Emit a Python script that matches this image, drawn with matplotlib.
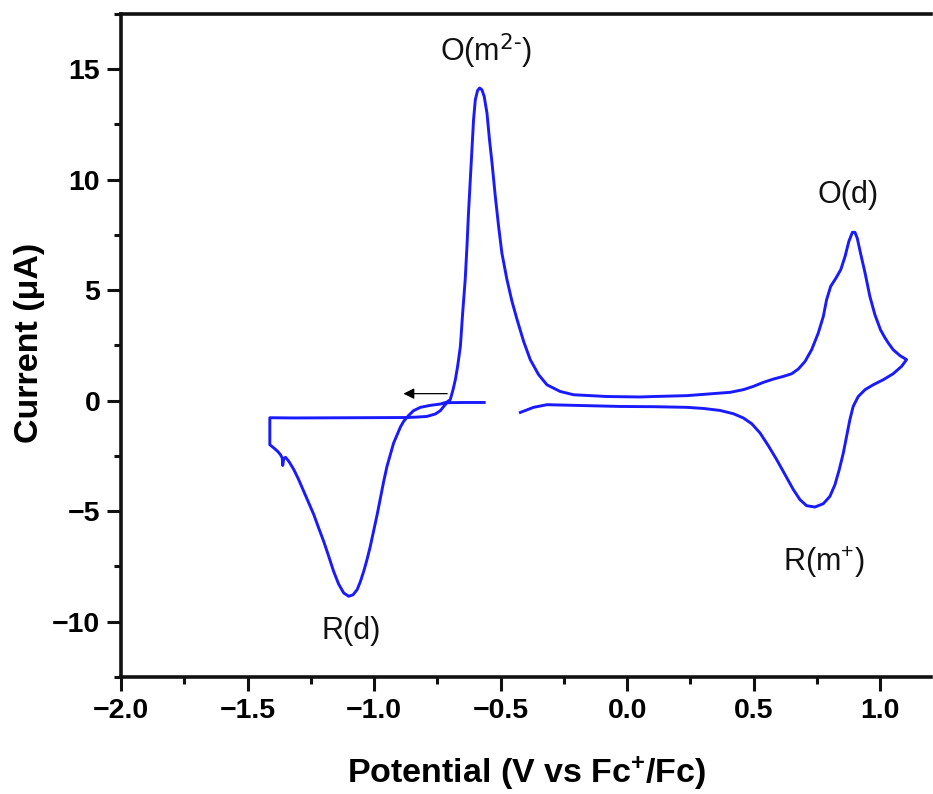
import matplotlib
matplotlib.use("Agg")
import matplotlib.pyplot as plt
from matplotlib.ticker import MultipleLocator, FuncFormatter

plt.rcParams['font.family'] = ['Liberation Sans', 'DejaVu Sans']
plt.rcParams['mathtext.default'] = 'regular'

# Cyclic voltammogram (potential in V vs Fc+/Fc, current in uA), traced in scan order
potential = [
    -0.565, -0.650, -0.712, -0.725, -0.738, -0.758, -0.791, -0.830, -0.870, -1.317, -1.412,
    -1.412, -1.396, -1.381, -1.370, -1.363, -1.361, -1.357, -1.350, -1.337, -1.317, -1.298,
    -1.278, -1.258, -1.238, -1.219, -1.199, -1.179, -1.160, -1.140, -1.120, -1.100, -1.083,
    -1.067, -1.054, -1.041, -1.028, -1.015, -1.002, -0.988, -0.975, -0.962, -0.949, -0.936,
    -0.923, -0.909, -0.896, -0.883, -0.863, -0.844, -0.817, -0.778, -0.738, -0.712,
    -0.699, -0.688, -0.679, -0.670, -0.659, -0.650, -0.640, -0.633, -0.627, -0.620, -0.613,
    -0.607, -0.600, -0.591, -0.583, -0.574, -0.565, -0.554, -0.544, -0.534, -0.521, -0.508,
    -0.495, -0.475, -0.455, -0.435, -0.409, -0.383, -0.350, -0.317, -0.265, -0.212, -0.080,
    0.051, 0.104, 0.236, 0.341, 0.407, 0.459, 0.499, 0.538, 0.578, 0.617, 0.650, 0.676,
    0.703, 0.729, 0.755, 0.775, 0.788, 0.804, 0.825, 0.844, 0.861, 0.876, 0.890, 0.900,
    0.909, 0.922, 0.940, 0.959, 0.979, 1.001, 1.019, 1.032, 1.051, 1.078, 1.104,
    1.084, 1.051, 1.012, 0.972, 0.940, 0.913, 0.893, 0.880, 0.867, 0.854, 0.838, 0.821,
    0.801, 0.775, 0.742, 0.709, 0.683, 0.657, 0.624, 0.591, 0.558, 0.525, 0.492, 0.459,
    0.420, 0.367, 0.301, 0.236, 0.104, -0.028, -0.133, -0.317, -0.370, -0.422]
current = [
    -0.08, -0.08, -0.09, -0.26, -0.45, -0.60, -0.71, -0.74, -0.76, -0.78, -0.77,
    -1.99, -2.14, -2.29, -2.44, -2.59, -2.93, -2.62, -2.56, -2.74, -3.12, -3.57,
    -4.10, -4.63, -5.16, -5.76, -6.37, -7.05, -7.72, -8.30, -8.70, -8.85, -8.78,
    -8.55, -8.18, -7.72, -7.19, -6.59, -5.91, -5.16, -4.40, -3.65, -2.97, -2.44,
    -1.92, -1.54, -1.19, -0.93, -0.66, -0.45, -0.30, -0.21, -0.15, -0.06,
    0.05, 0.50, 0.95, 1.55, 2.46, 3.97, 5.48, 6.98, 8.49, 10.00, 11.51,
    12.71, 13.62, 14.04, 14.15, 14.07, 13.77, 13.02, 11.81, 10.76, 9.24, 7.89,
    6.68, 5.48, 4.49, 3.67, 2.68, 1.86, 1.18, 0.72, 0.42, 0.27, 0.19,
    0.17, 0.19, 0.23, 0.32, 0.38, 0.50, 0.65, 0.83, 0.98, 1.10, 1.22, 1.43,
    1.78, 2.31, 3.06, 3.81, 4.57, 5.17, 5.55, 5.93, 6.53, 7.21, 7.62, 7.62,
    7.36, 6.68, 5.78, 4.72, 3.89, 3.21, 2.84, 2.61, 2.31, 2.04, 1.86,
    1.55, 1.22, 0.95, 0.72, 0.50, 0.19, -0.26, -0.86, -1.61, -2.37, -3.12, -3.80,
    -4.33, -4.66, -4.81, -4.75, -4.48, -4.03, -3.35, -2.67, -2.04, -1.46, -1.04, -0.78,
    -0.59, -0.44, -0.35, -0.30, -0.27, -0.26, -0.23, -0.18, -0.30, -0.53]

labels = ["O(m$^{\\text{2-}}$)", "O(d)", "R(d)", "R(m$^{+}$)"]
label_x = [-0.557, 0.873, -1.090, 0.778]
label_y = [15.8, 9.3, -10.4, -7.3]

arrow_from = (-0.711, 0.32)
arrow_to = (-0.884, 0.32)

fig = plt.figure(figsize=(9.33, 7.94), dpi=100)
ax = fig.add_axes([0.1297, 0.1474, 0.868, 0.835])

ax.plot(potential, current, color='#1a1aff', lw=2.1, solid_joinstyle='round')

for t, x, y in zip(labels, label_x, label_y):
    ax.text(x, y, t, ha='center', va='center', fontsize=22, color='#111111')

ax.annotate('', xy=arrow_to, xytext=arrow_from,
            arrowprops=dict(arrowstyle='-|>', color='black', lw=0.9,
                            mutation_scale=16, shrinkA=0, shrinkB=0))

ax.set_xlim(-2.0, 1.2)
ax.set_ylim(-12.5, 17.5)
ax.xaxis.set_major_locator(MultipleLocator(0.5))
ax.xaxis.set_minor_locator(MultipleLocator(0.25))
ax.yaxis.set_major_locator(MultipleLocator(5))
ax.yaxis.set_minor_locator(MultipleLocator(2.5))
ax.xaxis.set_major_formatter(FuncFormatter(
    lambda v, p: ('\u2212' if v < -1e-9 else '') + f"{abs(v):.1f}"))
ax.yaxis.set_major_formatter(FuncFormatter(
    lambda v, p: ('\u2212' if v < -1e-9 else '') + f"{abs(v):.0f}"))

for s in ['left', 'bottom', 'top']:
    ax.spines[s].set_linewidth(2.6)
    ax.spines[s].set_color('#111111')
ax.spines['right'].set_visible(False)

ax.tick_params(which='both', direction='out', width=2.2, color='#111111',
               top=False, right=False)
ax.tick_params(which='major', length=10, labelsize=20.5, pad=5)
ax.tick_params(which='minor', length=5)
for lab in ax.get_xticklabels() + ax.get_yticklabels():
    lab.set_fontweight('bold')

ax.set_xlabel("Potential (V vs Fc$^{+}$/Fc)", fontsize=24.5, fontweight='bold', va='center')
ax.set_ylabel("Current (\u03bcA)", fontsize=24.5, fontweight='bold', va='center')
ax.xaxis.set_label_coords(0.501, -0.145)
ax.yaxis.set_label_coords(-0.113, 0.504)

fig.savefig("out.png", dpi=100)
